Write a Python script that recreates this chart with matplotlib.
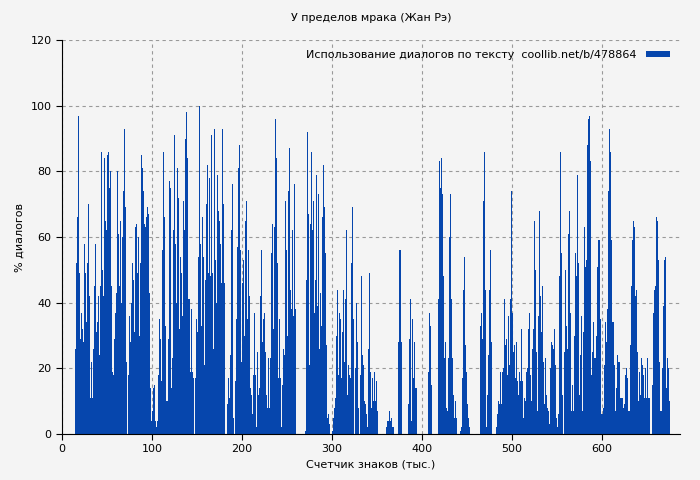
import numpy as np
import matplotlib
matplotlib.use("Agg")
import matplotlib.pyplot as plt

seg1 = [26,52,66,97,49,29,37,32,28,58,49,34,52,70,42,11,22,11,26,45,58,31,34,42,24,45,86,50,42,84,65,62,85,86,75,80,45,19,18,29,37,43,80,61,45,65,40,60,74,93,69,22,0,18,36,28,40,52,47,31,63,64,49,60,30,52,85,81,74,64,63,66,69,67,43,14,4,7,14,15,4,2,4,18,35,29,16,56,86,66,33,10,10,29,77]
seg2 = [75,14,23,62,91,58,40,81,72,32,54,49,36,71,62,90,98,84,41,41,19,38,19,17,0,17,35,31,54,100,58,33,66,54,21,47,70,82,49,78,48,91,49,26,93,53,40,79,68,65,58,46,93,70,46,0,0,9,17,11,24,62,76,5,0,16,35,57,81,88,56,22,46,53,30,65,71,35,56,42,14,12,6,18,37,18,2,25,12,14,42,56,28,35,37,25,12,8,23]
seg3 = [8,23,55,64,32,63,96,84,52,17,35,17,2,15,26,24,71,56,30,74,87,44,38,62,36,76,38,0,0,0,0,0,0,0,0,0,1,47,92,67,21,64,86,62,71,37,47,79,39,73,26,43,33,66,82,69,55,27,5,6,3,0,0,1,5,8,11,30,44,18,37,35,17,31,44,22,41,62,12,21,18,17,52,69,35,0,20,40,28,8,0,18,48,24,21,10,9,6,2,26,49,19,8,17,10]
seg4 = [19,10,16,7,0,0,0,0,0,0,0,0,2,4,4,7,4,5,2,0,0,0,0,0,28,56,28,0,0,0,0,0,0,9,29,41,4,35,17,28,14,14,0,0,0,0,0,0,0,0,0,0,0,19,37,33,15,0,0,0,0,0,0,41,83,75,84,73,48,23,28,8,7,23,60,73,41,23,12,5,10,5,0,0,0,1,2,17,44,54,27,19,9,5,2,0,0,0,0,0,0,0,0,0,0]
seg5 = [33,37,29,71,86,44,2,12,24,44,56,28,0,0,0,0,2,6,10,9,19,9,19,20,41,27,29,18,36,21,41,74,37,25,27,17,28,16,12,19,16,32,16,5,11,10,19,20,32,37,18,10,26,32,65,50,25,7,36,68,42,31,45,22,9,23,12,8,7,3,20,28,27,26,32,21,5,2,6,48,86,55,12,0,25,50,33,26,61,68,37,7,15,7,30,55,48,79,52,12,24,36,7,31,63]
seg6 = [51,53,88,96,97,83,18,25,34,23,23,30,51,59,59,35,6,6,8,21,34,28,38,74,93,86,59,34,34,21,7,14,24,22,22,11,11,11,8,9,18,20,17,7,7,27,45,59,65,63,42,44,25,10,19,12,23,21,18,11,20,11,23,11,11,0,0,15,37,44,45,66,65,53,22,7,7,20,39,53,54,14,23,20,10]
values = seg1 + seg2 + seg3 + seg4 + seg5 + seg6
x_start, x_end = 14.4, 674.4

title = "У пределов мрака (Жан Рэ)"
legend_label = "Использование диалогов по тексту  coollib.net/b/478864"
xlabel = "Счетчик знаков (тыс.)"
ylabel = "% диалогов"
xticks = [0, 100, 200, 300, 400, 500, 600]
yticks = [0, 20, 40, 60, 80, 100, 120]

x = np.linspace(x_start, x_end, len(values))
step = x[1] - x[0]

bg = "#f4f4f4"
fig = plt.figure(figsize=(7, 4.8), dpi=100, facecolor=bg)
ax = fig.add_axes([62/700, 46/480, 618/700, 394/480], facecolor=bg)
ax.bar(x, values, width=step*1.02, color="#0646ad", align="edge", linewidth=0, label=legend_label, zorder=2)
ax.set_xlim(0, 686.7)
ax.set_ylim(0, 120)
ax.set_xticks(xticks)
ax.set_yticks(yticks)
ax.tick_params(labelsize=8, length=4, direction="out")
ax.grid(True, linestyle=(0, (3, 3)), color="#999999", linewidth=0.8, zorder=1)
for s in ["top", "right"]:
    ax.spines[s].set_visible(False)
ax.set_title(title, fontsize=8, pad=14)
ax.set_xlabel(xlabel, fontsize=8)
ax.set_ylabel(ylabel, fontsize=8)
leg = ax.legend(loc="upper right", fontsize=8, frameon=False, handlelength=2.2, handleheight=0.5, markerfirst=False)
fig.savefig("out.png", dpi=100, facecolor=bg)
